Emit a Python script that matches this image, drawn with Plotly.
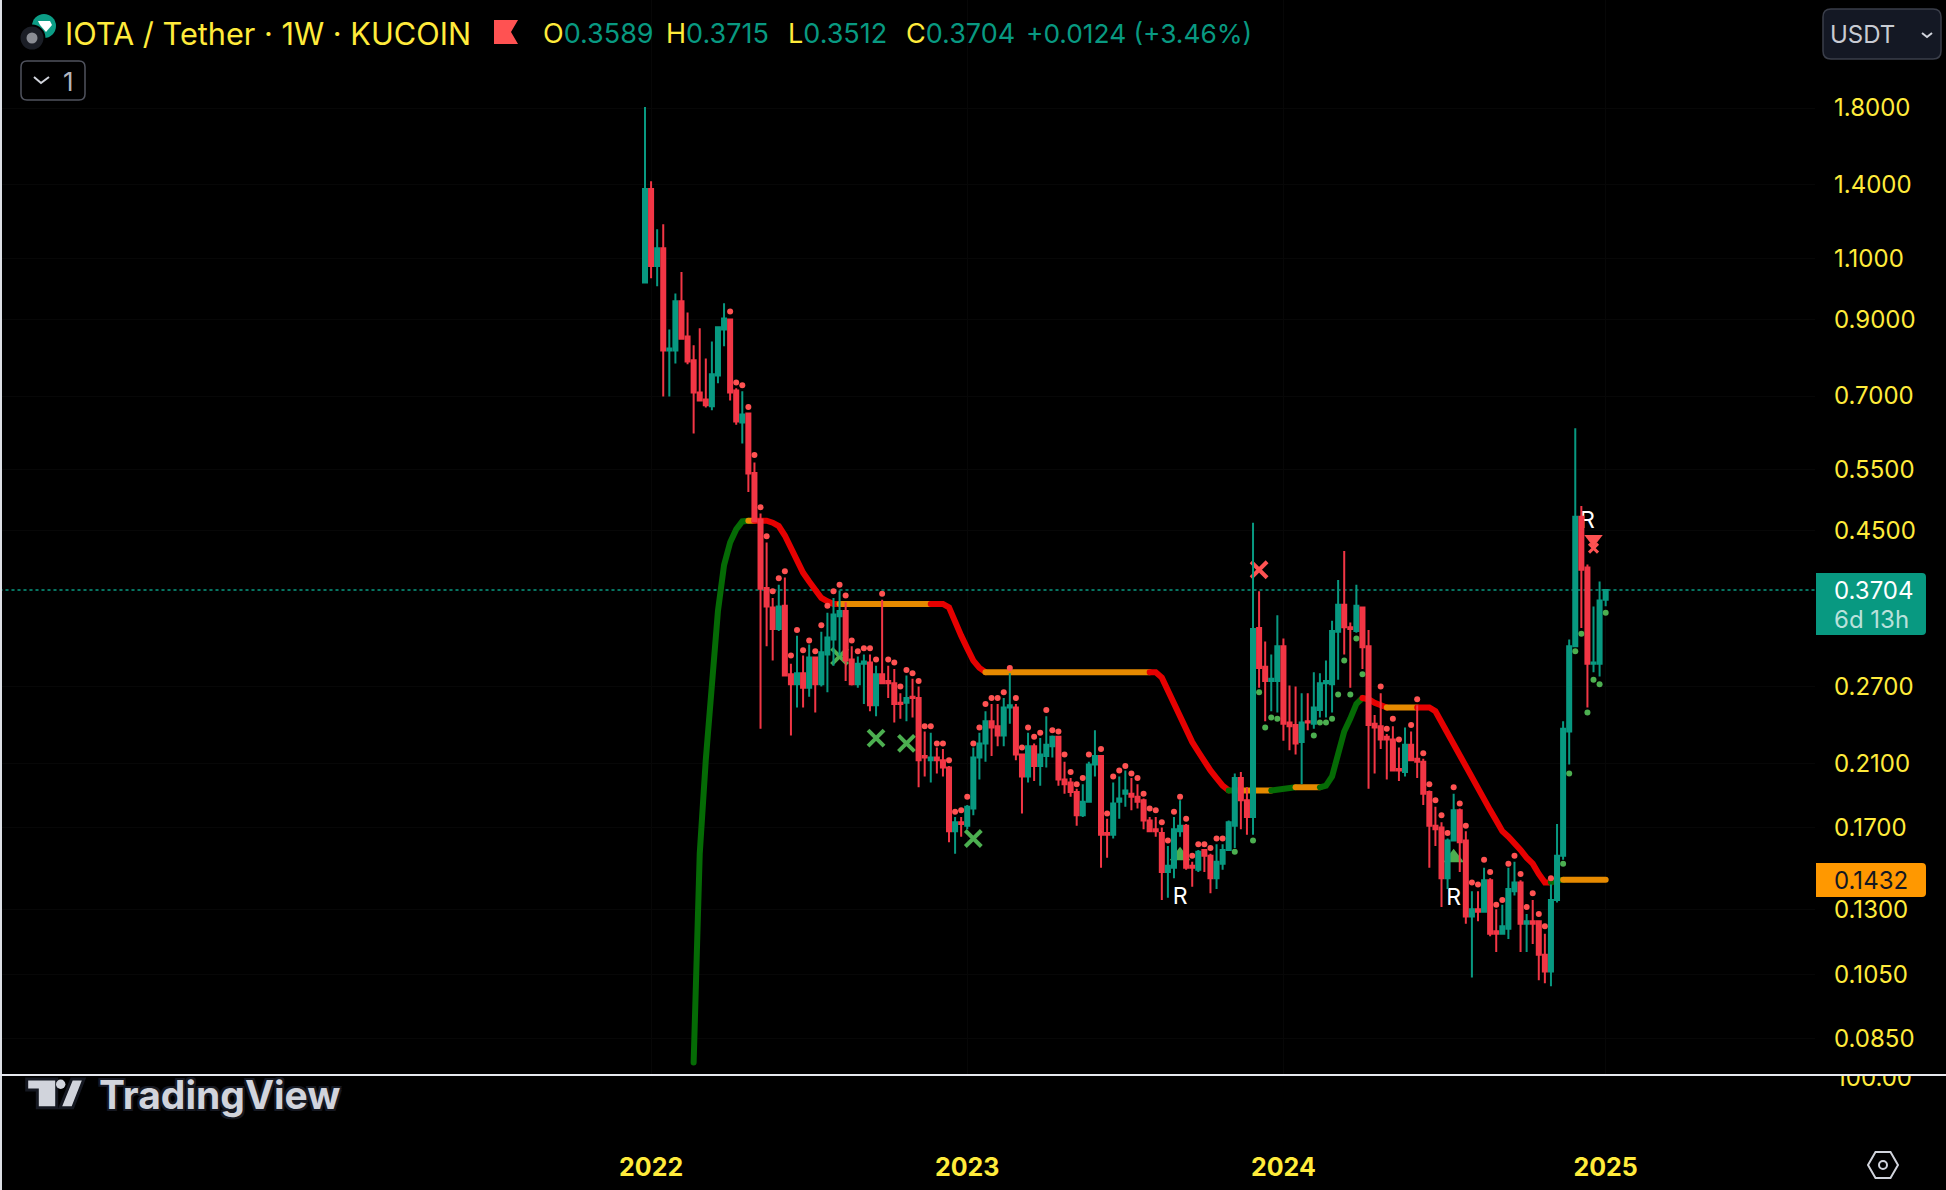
import pandas as pd
import plotly.graph_objects as go

W, H = 1946, 1190
PANE_R, PANE_B, LOW_B = 1815, 1075, 1150
YELLOW, TEAL, RED, DOT_RED, DOT_GREEN = "#FFEB3B", "#089981", "#F23645", "#FF5252", "#4CAF50"
LINE_COL = {"g": "#056B05", "o": "#E68A00", "r": "#E60000"}

first_week = "2021-12-27"

opens = [1.016,1.380,1.072,1.137,.813,.813,.955,.851,.787,.708,.692,.677,.749,.871,.900,.713,.642,.661,.544,.467,
 .373,.350,.326,.352,.281,.272,.282,.269,.297,.272,.300,.315,.340,.346,.295,.272,.291,.292,.254,.281,
 .275,.273,.256,.256,.261,.260,.215,.212,.214,.212,.207,.168,.173,.171,.181,.214,.224,.241,.237,.230,
 .252,.252,.216,.201,.222,.208,.215,.222,.229,.199,.197,.191,.177,.185,.209,.215,.167,.166,.185,.190,
 .190,.188,.186,.174,.169,.167,.147,.149,.168,.171,.150,.148,.158,.155,.144,.151,.158,.171,.200,.186,
 .176,.327,.288,.275,.275,.308,.240,.238,.225,.241,.239,.250,.273,.272,.323,.353,.328,.324,.350,.308,
 .239,.237,.229,.227,.206,.204,.223,.213,.211,.191,.171,.170,.144,.163,.180,.163,.127,.130,.129,.143,
 .121,.120,.122,.138,.142,.124,.125,.125,.112,.106,.134,.155,.233,.308,.471,.399,.291,.291,.3589]
highs = [1.806,1.416,1.21,1.23,.871,.980,1.051,.921,.827,.874,.792,.837,.880,.949,.903,.718,.711,.661,.563,.476,
 .433,.361,.377,.386,.291,.319,.299,.310,.298,.323,.344,.361,.370,.356,.308,.298,.300,.300,.289,.359,
 .289,.286,.264,.280,.277,.270,.233,.232,.221,.220,.208,.176,.176,.183,.221,.232,.249,.255,.255,.260,
 .282,.255,.216,.232,.224,.228,.245,.230,.229,.211,.200,.193,.196,.211,.234,.215,.175,.197,.201,.205,
 .200,.196,.187,.176,.176,.170,.160,.176,.186,.172,.152,.158,.158,.156,.161,.161,.174,.203,.204,.194,
 .462,.369,.313,.300,.341,.316,.271,.270,.264,.264,.283,.282,.294,.335,.383,.421,.333,.377,.351,.325,
 .246,.264,.231,.237,.221,.236,.233,.254,.213,.192,.182,.173,.164,.190,.181,.168,.138,.138,.149,.144,
 .130,.132,.149,.152,.143,.128,.134,.125,.120,.141,.172,.241,.315,.630,.488,.403,.351,.381,.3715]
lows = [1.016,1.030,1.003,.699,.699,.779,.845,.777,.619,.688,.674,.668,.730,.824,.690,.637,.599,.511,.464,.235,
 .308,.294,.324,.280,.230,.252,.252,.261,.248,.270,.265,.289,.299,.275,.271,.269,.255,.249,.245,.273,
 .260,.240,.243,.241,.244,.194,.201,.197,.203,.201,.162,.156,.165,.169,.177,.199,.211,.215,.222,.222,
 .239,.212,.178,.197,.198,.195,.207,.214,.195,.190,.188,.171,.176,.185,.201,.149,.154,.164,.175,.182,
 .180,.181,.169,.168,.165,.134,.135,.144,.165,.148,.140,.147,.147,.137,.139,.148,.158,.159,.169,.166,
 .166,.269,.241,.249,.248,.226,.219,.216,.196,.234,.235,.244,.244,.248,.276,.300,.269,.322,.286,.193,
 .203,.220,.199,.205,.198,.201,.212,.200,.183,.149,.160,.131,.139,.163,.147,.124,.104,.125,.129,.119,
 .113,.120,.118,.136,.113,.113,.116,.103,.102,.101,.133,.153,.209,.308,.327,.252,.283,.279,.3512]
closes = [1.380,1.072,1.137,.813,.818,.955,.845,.784,.708,.690,.679,.752,.877,.903,.708,.644,.659,.543,.464,.372,
 .351,.326,.351,.280,.272,.282,.269,.297,.272,.302,.317,.342,.346,.294,.272,.291,.293,.254,.281,.273,
 .273,.255,.255,.260,.260,.212,.214,.214,.212,.207,.168,.173,.172,.182,.214,.224,.241,.236,.230,.252,
 .254,.216,.201,.222,.208,.216,.223,.229,.199,.196,.191,.177,.185,.209,.215,.166,.166,.184,.187,.192,
 .188,.185,.174,.168,.168,.147,.150,.169,.171,.149,.149,.157,.155,.144,.152,.158,.173,.200,.186,.176,
 .326,.287,.275,.277,.308,.239,.237,.224,.240,.240,.252,.273,.275,.324,.353,.328,.326,.352,.307,.238,
 .236,.227,.227,.205,.205,.223,.212,.211,.190,.171,.169,.144,.163,.180,.162,.127,.130,.129,.143,.120,
 .120,.123,.139,.142,.124,.125,.124,.112,.106,.134,.155,.235,.308,.471,.396,.291,.292,.358,.3704]

red_dots = [None]*14 + [.924,.732,.725,.675,.577,.486,.442,.369,.385,.394,.299,.325,.304,.314,.303,.330,.352,.369,.377,.364,
 .314,.303,.306,.306,.295,.366,.295,.292,.270,.285,.282,.275,.237,.237,.224,.224,.212,.179,.180,.188,
 .224,.236,.255,.260,.260,.265,.287,.260,.221,.236,.229,.232,.250,.234,.233,.216,.204,.196,.200,.216,
 None,.220,.178,.201,.205,.208,.203,.200,.190,.181,.180,.173,.163,.179,.188,.175,.155,.161,.161,.159,.164,.164] + \
 [None]*25 + [.270,.235,.243,.227,None,.238,.259,.217,.196,.186,.177,.167,.194,.184,.171,.142,.141,.153,.147,.132,.134,.151,.155,.146,.131,.137,.128,.123,.144] + [None]*9
green_dots = [None]*97 + [.157,None,None,.163,.265,.236,.244,.243,None,None,None,None,None,.230,.240,.240,.243,.263,.294,.263,.316,.281] + \
 [None]*32 + [.151,.203,.303,.321,.248,.276,.272,.344]

trend = [None]*8 + [.0787,.156,.2125,.278,.346,.402,.433,.452,.464,.465,.465,.465,.465,.462,.457,.443,.425,.409,.392,.381,.371,.361,.357,.354] + \
 [.354]*18 + [.350,.332,.319,.306,.294,.287] + [.283]*29 + [.278,.266,.256,.246,.235,.225,.218,.211,.205,.200,.195,.192] + [.192]*7 + \
 [.1925,.193,.193,.194,.194,.194,.194,.194,.195,.201,.216,.233,.243,.255,.260,.259,.256,.254] + [.252]*8 + \
 [.249,.240,.231,.224,.216,.208,.200,.193,.186,.180,.174,.168,.165,.162,.158,.154,.151,.146,.142,.142,.143] + [.1432]*8
trend_breaks = [8,17,18,32,47,56,83,96,98,103,107,111,118,122,127,149,151,158]
trend_states = ["g","o","r","o","r","o","r","g","o","g","o","g","r","o","r","g","o"]

green_x_weeks, green_x_prices = [32,38,43,54], [.298,.228,.224,.164]
red_x_weeks, red_x_prices = [101], [.396]
small_x_weeks, small_x_prices = [156], [.425]
up_tri_weeks, up_tri_prices = [88,133], [.155,.154]
down_tri_weeks, down_tri_prices = [156], [.438]
r_weeks, r_prices = [88,133,155], [.1348,.1345,.4625]

last_price, trend_last = 0.3704, 0.1432
price_ticks = [1.8,1.4,1.1,.9,.7,.55,.45,.27,.21,.17,.13,.105,.085]
year_ticks = ["2022-01-03","2023-01-02","2024-01-01","2025-01-06"]
year_text = ["2022","2023","2024","2025"]
x_range = ["2019-12-15 10:00","2025-09-04"]
y_range = [-1.1220, 0.4092]

dates = pd.date_range(first_week, periods=len(opens), freq="7D")
at = lambda idx: [dates[i] for i in idx]

fig = go.Figure()
# below the candles
fig.add_trace(go.Scatter(x=x_range, y=[last_price,last_price], mode="lines", line=dict(color=TEAL,width=1.5,dash="2px,4px"), hoverinfo="skip"))
for a,b,s in zip(trend_breaks[:-1],trend_breaks[1:],trend_states):
    fig.add_trace(go.Scatter(x=dates[a:b+1], y=trend[a:b+1], mode="lines", line=dict(color=LINE_COL[s],width=6), hoverinfo="skip"))
fig.add_trace(go.Scatter(x=dates, y=red_dots, mode="markers", marker=dict(color=DOT_RED,size=6), hoverinfo="skip"))
fig.add_trace(go.Scatter(x=dates, y=green_dots, mode="markers", marker=dict(color=DOT_GREEN,size=6), hoverinfo="skip"))
fig.add_trace(go.Scatter(x=at(up_tri_weeks), y=up_tri_prices, mode="markers", marker=dict(symbol="triangle-up",color=DOT_GREEN,size=18), hoverinfo="skip"))
fig.add_trace(go.Scatter(x=at(down_tri_weeks), y=down_tri_prices, mode="markers", marker=dict(symbol="triangle-down",color=DOT_RED,size=16), hoverinfo="skip"))
fig.add_trace(go.Scatter(x=at(green_x_weeks), y=green_x_prices, mode="markers", marker=dict(symbol="x-thin",size=16,line=dict(color=DOT_GREEN,width=4)), hoverinfo="skip"))
fig.add_trace(go.Scatter(x=at(red_x_weeks), y=red_x_prices, mode="markers", marker=dict(symbol="x-thin",size=16,line=dict(color=DOT_RED,width=4)), hoverinfo="skip"))
fig.add_trace(go.Scatter(x=at(small_x_weeks), y=small_x_prices, mode="markers", marker=dict(symbol="x-thin",size=9,line=dict(color=DOT_RED,width=3)), hoverinfo="skip"))
fig.add_trace(go.Scatter(x=at(r_weeks), y=r_prices, mode="text", text=["R"]*3, textfont=dict(family="Inter",size=23,color="#FFFFFF"), hoverinfo="skip"))
# candles on an overlaying axis so that they sit on top
fig.add_trace(go.Candlestick(x=dates, open=opens, high=highs, low=lows, close=closes, yaxis="y2",
    increasing=dict(line=dict(color=TEAL,width=2),fillcolor=TEAL),
    decreasing=dict(line=dict(color=RED,width=2),fillcolor=RED), whiskerwidth=0, hoverinfo="skip"))
# lower pane label, clipped by its pane
fig.add_trace(go.Scatter(x=[1874], y=[100], xaxis="x2", yaxis="y3", mode="text", text=["100.00"], cliponaxis=True,
    textfont=dict(family="Inter",size=24,color=YELLOW), hoverinfo="skip"))

X = lambda p: p/W
Y = lambda p: 1-p/H
def path(*pts, close=True):
    s = "M"+" L".join(f"{X(a):.5f},{Y(b):.5f}" for a,b in pts)
    return s+(" Z" if close else "")
def rrect(x0,y0,x1,y1,rl,rr):
    def pt(a,b): return f"{X(a):.5f},{Y(b):.5f}"
    return (f"M{pt(x0+rl,y0)} L{pt(x1-rr,y0)} Q{pt(x1,y0)} {pt(x1,y0+rr)} L{pt(x1,y1-rr)} Q{pt(x1,y1)} {pt(x1-rr,y1)} "
            f"L{pt(x0+rl,y1)} Q{pt(x0,y1)} {pt(x0,y1-rl)} L{pt(x0,y0+rl)} Q{pt(x0,y0)} {pt(x0+rl,y0)} Z")
def shp(p, fill="rgba(0,0,0,0)", line="rgba(0,0,0,0)", w=0):
    return dict(type="path", xref="paper", yref="paper", path=p, fillcolor=fill, line=dict(color=line,width=w), layer="above")
def circ(cx,cy,r,fill,line="rgba(0,0,0,0)",w=0):
    return dict(type="circle", xref="paper", yref="paper", x0=X(cx-r), x1=X(cx+r), y0=Y(cy+r), y1=Y(cy-r), fillcolor=fill, line=dict(color=line,width=w), layer="above")

LOGO, OUT = "#D1D4DC", "#151821"
shapes = [
    shp(path((1,0),(1,H),close=False), line="#DDE0E6", w=2),
    shp(path((0,1075),(W,1075),close=False), line="#E6E8EE", w=2),
    # header icons
    circ(44,26,12,"#0C9D86"),
    shp(path((38,21),(50,21),(52,25),(46,32),(40,25)), fill="#FFFFFF"),
    circ(32,38,12.5,"#1B1E26","#000000",2),
    circ(32,38,5.5,"#8A8D94"),
    shp(path((494,20),(518,20),(511,32),(518,44),(494,44)), fill=DOT_RED),
    # depth button
    shp(rrect(21,61,85,100,6,6), line="#50535E", w=1.5),
    shp(path((34,77),(41,83),(49,77),close=False), line="#D1D4DC", w=2),
    # currency button
    shp(rrect(1823,9,1941,59,8,8), fill="#141824", line="#3A3E4A", w=1.5),
    shp(path((1922,33),(1927,37),(1932,33),close=False), line="#D1D4DC", w=2),
    # price labels
    shp(rrect(1816,573,1926,635,0,4), fill=TEAL),
    shp(rrect(1816,863,1926,897,0,4), fill="#FF9800"),
    # tradingview mark
    shp(path((26.7,1079),(56.7,1079),(56.7,1107.7),(37.3,1107.7),(37.3,1090),(26.7,1090)), fill=LOGO, line=OUT, w=3),
    shp(path((71.7,1079),(84,1079),(72.7,1107.7),(60,1107.7)), fill=LOGO, line=OUT, w=3),
    circ(60.7,1084.3,4.7,LOGO),
    # settings hexagon
    shp(path((1868,1165),(1875.5,1152),(1890.5,1152),(1898,1165),(1890.5,1178),(1875.5,1178)), line="#D1D4DC", w=2),
    circ(1883,1165,4,"rgba(0,0,0,0)","#D1D4DC",2),
]
def label(text,x,y,size,color,anchor="left",**font):
    return dict(text=text,x=X(x),y=Y(y),xref="paper",yref="paper",xanchor=anchor,yanchor="middle",showarrow=False,
                font=dict(family=font.pop("family","Inter"),size=size,color=color,**font))
def ohlc(key,val): return f'<span style="color:{YELLOW}">{key}</span>{val}'
annotations = [
    label("IOTA / Tether · 1W · KUCOIN",63,33,30.7,YELLOW),
    label(ohlc("O","0.3589"),541,33,27,TEAL),
    label(ohlc("H","0.3715"),664,33,27,TEAL),
    label(ohlc("L","0.3512"),786,33,27,TEAL),
    label(ohlc("C","0.3704"),904,33,27,TEAL),
    label("+0.0124 (+3.46%)",1024,33,26.3,TEAL),
    label("1",68,82,26,"#B2B5BE","center"),
    label("USDT",1828,34,24,"#C8CBD3"),
    label("0.3704",1832,590,24,"#FFFFFF"),
    label("6d 13h",1832,619,24,"rgba(255,255,255,0.72)"),
    label("0.1432",1832,880,24,"#131722"),
    label("TradingView",97,1094,39,LOGO,weight=700,
          shadow=f"2px 0 0 {OUT},-2px 0 0 {OUT},0 2px 0 {OUT},0 -2px 0 {OUT},2px 2px 0 {OUT},-2px -2px 0 {OUT},2px -2px 0 {OUT},-2px 2px 0 {OUT}"),
]

y_dom = [1-PANE_B/H, 1]
grid = "#070707"
fig.update_layout(
    width=W, height=H, autosize=False, margin=dict(l=0,r=0,t=0,b=0,pad=0),
    paper_bgcolor="#000000", plot_bgcolor="#000000", showlegend=False, hovermode=False,
    boxgap=0.34, boxgroupgap=0, boxmode="overlay",
    shapes=shapes, annotations=annotations,
    xaxis=dict(domain=[0,PANE_R/W], type="date", range=x_range, anchor="y3", rangeslider=dict(visible=False),
               tickmode="array", tickvals=year_ticks, ticktext=year_text, ticks="", showline=False, zeroline=False,
               showgrid=True, gridcolor=grid, tickfont=dict(family="Inter",size=25,color=YELLOW,weight=700), ticklabelstandoff=0),
    xaxis2=dict(domain=[0,1], range=[0,W], anchor="y3", visible=False),
    yaxis=dict(domain=y_dom, type="log", range=y_range, side="right", anchor="x", tickmode="array", tickvals=price_ticks,
               ticktext=[f"{v:.4f}" for v in price_ticks], ticks="", showline=False, zeroline=False, showgrid=True, gridcolor=grid,
               tickfont=dict(family="Inter",size=24,color=YELLOW), ticklabelstandoff=18, automargin=False),
    yaxis2=dict(domain=y_dom, type="log", range=y_range, overlaying="y", side="right", anchor="x", visible=False),
    yaxis3=dict(domain=[1-LOW_B/H,1-(PANE_B+1)/H], range=[0,105.5], anchor="x", visible=False),
)
post = ("document.body.style.margin='0';document.body.style.background='#000';document.body.style.overflow='hidden';"
        "document.querySelectorAll('.scatterlayer .js-line').forEach(p=>p.style.strokeLinecap='round');")
fig.write_html("out.html", post_script=post, config=dict(displayModeBar=False))
